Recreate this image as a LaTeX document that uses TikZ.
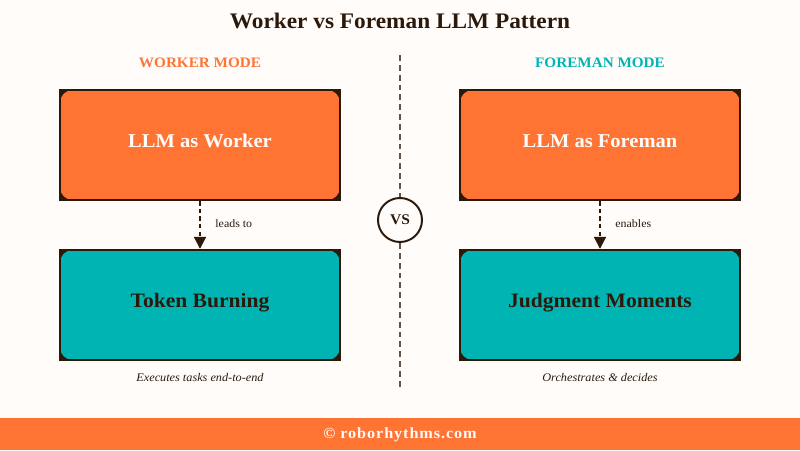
\documentclass[tikz,border=0pt]{standalone}
\usepackage{fontspec}
\setmainfont[FakeStretch=1.05]{Liberation Serif}
\usetikzlibrary{positioning}
\usetikzlibrary{arrows.meta}
\definecolor{paper}{HTML}{FFFCFA}
\definecolor{ink}{HTML}{2B1A0C}
\definecolor{tangerine}{HTML}{FF7433}
\definecolor{teal}{HTML}{00B4B4}
\tikzset{
  modebox/.style={draw=ink,fill=ink,line width=1.7pt,minimum width=7cm,minimum height=2.75cm,
    text height=9pt,text depth=4.8pt,font=\fontsize{13.9}{16}\selectfont\bfseries,
    path picture={\fill[#1,rounded corners=0.32cm] (path picture bounding box.south west) rectangle (path picture bounding box.north east);}},
  midline/.style={draw=ink!75,line width=1.4pt,dash pattern=on 4.2pt off 2.8pt},
  flow/.style={draw=ink,line width=1.4pt,dash pattern=on 3.2pt off 2.2pt,-{Triangle[length=8.5pt,width=8.5pt]}},
  steplabel/.style={font=\fontsize{8.1}{9}\selectfont,text=ink,anchor=west},
  caption/.style={font=\fontsize{8.3}{9}\selectfont\itshape,text=ink}
}
\begin{document}
\begin{tikzpicture}
\useasboundingbox (0,0) rectangle (20,11.25);
\fill[paper] (0,0) rectangle (20,11.25);
\fill[tangerine] (0,0) rectangle (20,0.8);
\node[font=\fontsize{11}{12}\selectfont\bfseries\addfontfeature{LetterSpace=5.8},text=paper] (foot) at (10,0.39) {© roborhythms.com};
\node[font=\fontsize{15.8}{18}\selectfont\bfseries,text=ink] (title) at (10,10.725) {Worker vs Foreman LLM Pattern};

\node[font=\fontsize{10.3}{12}\selectfont\bfseries,text=tangerine] (wmode) at (5,9.675) {WORKER MODE};
\node[font=\fontsize{10.3}{12}\selectfont\bfseries,text=teal] (fmode) at (15,9.675) {FOREMAN MODE};

\coordinate (top) at (10,9.875);
\coordinate (bot) at (10,1.5);
\node[circle,draw=ink,line width=1.4pt,fill=paper,minimum size=1.1cm,inner sep=0pt,font=\fontsize{10.5}{12}\selectfont\bfseries,text=ink] (vs) at (10,5.75) {VS};
\draw[midline] (top) -- (vs);
\draw[midline] (vs) -- (bot);

\node[modebox=tangerine,text=paper] (lw) at (5,7.625) {LLM as Worker};
\node[modebox=teal,font=\fontsize{14.6}{16}\selectfont\bfseries,text=ink] (tb) at (5,3.625) {Token Burning};
\node[modebox=tangerine,text=paper] (lf) at (15,7.625) {LLM as Foreman};
\node[modebox=teal,font=\fontsize{14.6}{16}\selectfont\bfseries,text=ink] (jm) at (15,3.625) {Judgment Moments};

\draw[flow] (lw) -- (tb);
\draw[flow] (lf) -- (jm);
\node[steplabel] (leads) at (5.26,5.65) {leads to};
\node[steplabel] (enables) at (15.26,5.65) {enables};

\node[caption] (capw) at (5,1.8) {Executes tasks end-to-end};
\node[caption] (capf) at (15,1.8) {Orchestrates \& decides};
\end{tikzpicture}
\end{document}
